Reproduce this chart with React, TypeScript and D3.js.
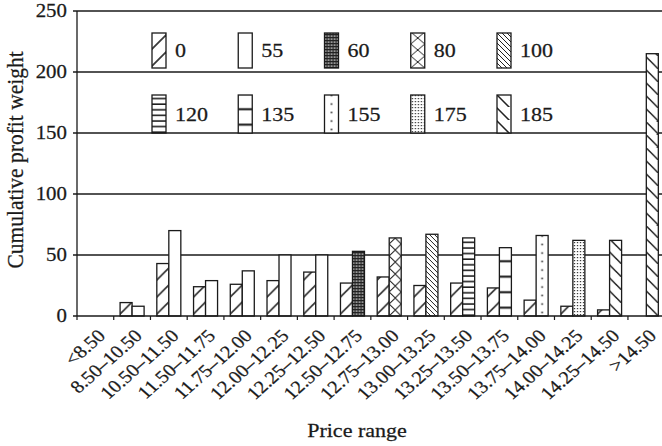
import React from "react";
import * as d3 from "d3";

const categories = ["<8.50", "8.50–10.50", "10.50–11.50", "11.50–11.75", "11.75–12.00", "12.00–12.25", "12.25–12.50", "12.50–12.75", "12.75–13.00", "13.00–13.25", "13.25–13.50", "13.50–13.75", "13.75–14.00", "14.00–14.25", "14.25–14.50", ">14.50"];
const baseSeriesValues: (number | null)[] = [null, 11, 43, 24, 26, 29, 36, 27, 32, 25, 27, 23, 13, 8, 5, null];
const pairedSeriesKeys: (string | null)[] = [null, "55", "55", "55", "55", "55", "55", "60", "80", "100", "120", "135", "155", "175", "185", "185"];
const pairedSeriesValues: (number | null)[] = [null, 8, 70, 29, 37, 50, 50, 53, 64, 67, 64, 56, 66, 62, 62, 215];
const legendKeys = ["0", "55", "60", "80", "100", "120", "135", "155", "175", "185"];
const yTicks = [0, 50, 100, 150, 200, 250];

const FONT = "'Liberation Serif', 'Times New Roman', serif";
const INK = "#1a1a1a";
const SX = 1.13;
const TS = 0.25;

function Pat({ id, k, x, y, w }: { id: string; k: string; x: number; y: number; w: number }) {
  const common: any = { id, patternUnits: "userSpaceOnUse", x, y };
  if (k === "0") {
    const h = 17;
    return (
      <pattern {...common} width={w} height={h}>
        <rect width={w} height={h} fill="#fff" />
        <path d={`M-1,${h - 1} L${w + 1},${h - 3 - w}`} stroke="#3a3a3a" strokeWidth={1.7} />
      </pattern>
    );
  }
  if (k === "55") {
    return (
      <pattern {...common} width={w} height={10}>
        <rect width={w} height={10} fill="#fff" />
      </pattern>
    );
  }
  if (k === "60") {
    return (
      <pattern {...common} width={3} height={3}>
        <rect width={3} height={3} fill="#222" />
        <rect x={0.4} y={0.4} width={1.4} height={1.4} fill="#f0f0f0" />
      </pattern>
    );
  }
  if (k === "80") {
    const h = 12;
    return (
      <pattern {...common} width={w} height={h}>
        <rect width={w} height={h} fill="#fff" />
        <path d={`M0,0 L${w},${h} M${w},0 L0,${h}`} stroke="#222" strokeWidth={1} />
      </pattern>
    );
  }
  if (k === "100") {
    const s = 5;
    return (
      <pattern {...common} width={s} height={s}>
        <rect width={s} height={s} fill="#fff" />
        <path d={`M-1,${s - 1} l2,2 M0,0 l${s},${s} M${s - 1},-1 l2,2`} stroke="#222" strokeWidth={1} />
      </pattern>
    );
  }
  if (k === "120") {
    const h = 5.6;
    return (
      <pattern {...common} width={w} height={h}>
        <rect width={w} height={h} fill="#fff" />
        <line x1={0} x2={w} y1={h - 0.8} y2={h - 0.8} stroke="#111" strokeWidth={1.5} />
      </pattern>
    );
  }
  if (k === "135") {
    const h = 15.5;
    return (
      <pattern {...common} width={w} height={h}>
        <rect width={w} height={h} fill="#fff" />
        <line x1={0} x2={w} y1={h - 8.3} y2={h - 8.3} stroke="#111" strokeWidth={2} />
      </pattern>
    );
  }
  if (k === "155") {
    const h = 8.5;
    return (
      <pattern {...common} width={w} height={h}>
        <rect width={w} height={h} fill="#fff" />
        <rect x={w / 2 - 0.8} y={h / 2} width={1.6} height={1.6} fill="#222" />
      </pattern>
    );
  }
  if (k === "175") {
    return (
      <pattern {...common} width={3} height={3}>
        <rect width={3} height={3} fill="#fff" />
        <rect x={1} y={1} width={1.2} height={1.2} fill="#222" />
      </pattern>
    );
  }
  // 185
  const h = 13;
  return (
    <pattern {...common} width={w} height={h}>
      <rect width={w} height={h} fill="#fff" />
      <path d={`M-1,0 L${w + 1},${w + 2}`} stroke="#222" strokeWidth={1.5} />
    </pattern>
  );
}

export default function App() {
  const W = 662;
  const H = 446;
  const x0 = 77;
  const step = 36.73;
  const x = d3.scaleBand<string>().domain(categories).range([x0, x0 + step * categories.length]).paddingInner(0).paddingOuter(0);
  const y = d3.scaleLinear().domain([0, 250]).range([316, 11]);
  const sub = d3.scaleBand<string>().domain(["base", "paired"]).range([0, x.bandwidth()]).paddingInner(0).paddingOuter(0.53);
  const bw = sub.bandwidth();

  type Bar = { key: string; x: number; v: number; id: string };
  const bars: Bar[] = [];
  categories.forEach((c, i) => {
    const b = baseSeriesValues[i];
    if (b != null) bars.push({ key: "0", x: (x(c) as number) + (sub("base") as number), v: b, id: `pb${i}` });
    const p = pairedSeriesValues[i];
    const pk = pairedSeriesKeys[i];
    if (p != null && pk != null) bars.push({ key: pk, x: (x(c) as number) + (sub("paired") as number), v: p, id: `pp${i}` });
  });

  const legendCol = d3.scaleLinear().domain([0, 4]).range([152, 497]);
  const legendRowTop = [33, 95];
  const legendRowH = [35, 38];
  const swW = 14;
  const legendItems = legendKeys.map((k, i) => {
    const row = Math.floor(i / 5);
    const col = i % 5;
    return { k, sx: legendCol(col), sy: legendRowTop[row], sh: legendRowH[row], id: `lg${i}` };
  });

  const boundaries = d3.range(categories.length + 1).map((i) => x0 + i * step);
  const textProps = { fill: INK, stroke: INK, strokeWidth: TS };

  return (
    <svg width={W} height={H} style={{ position: "absolute", left: 0, top: 0, background: "#fff" }} fontFamily={FONT}>
      <defs>
        {bars.map((b) => (
          <Pat key={b.id} id={b.id} k={b.key} x={b.x} y={316} w={bw} />
        ))}
        {legendItems.map((l) => (
          <Pat key={l.id} id={l.id} k={l.k} x={l.sx} y={l.sy + l.sh} w={swW} />
        ))}
      </defs>
      <rect width={W} height={H} fill="#fff" />
      {yTicks.filter((t) => t > 0).map((t) => (
        <line key={t} x1={73} x2={W + 10} y1={y(t)} y2={y(t)} stroke={INK} strokeWidth={1.3} />
      ))}
      {bars.map((b) => (
        <rect key={b.id} x={b.x} y={y(b.v)} width={bw} height={316 - y(b.v)} fill={`url(#${b.id})`} stroke={INK} strokeWidth={1.3} />
      ))}
      <line x1={x0} x2={x0} y1={y(250)} y2={316} stroke={INK} strokeWidth={1.3} />
      <line x1={73} x2={W + 10} y1={316} y2={316} stroke={INK} strokeWidth={1.3} />
      {boundaries.map((bx, i) => (
        <line key={i} x1={bx} x2={bx} y1={316} y2={320} stroke={INK} strokeWidth={1.2} />
      ))}
      {yTicks.map((t) => (
        <text key={t} transform={`translate(67,${y(t)}) scale(${SX},1)`} dy="0.35em" textAnchor="end" fontSize={18.5} {...textProps}>
          {t}
        </text>
      ))}
      {categories.map((c) => (
        <text key={c} transform={`translate(${(x(c) as number) + x.bandwidth() / 2 + 11},337) scale(${SX},1) rotate(-45)`} textAnchor="end" fontSize={18} {...textProps}>
          {c}
        </text>
      ))}
      <text transform="translate(23,160) scale(1.05,1) rotate(-90)" textAnchor="middle" fontSize={21.5} {...textProps}>
        Cumulative profit weight
      </text>
      <text transform={`translate(357,437) scale(${SX},1)`} textAnchor="middle" fontSize={19.5} {...textProps}>
        Price range
      </text>
      {legendItems.map((l) => (
        <g key={l.id}>
          <rect x={l.sx} y={l.sy} width={swW} height={l.sh} fill={`url(#${l.id})`} stroke={INK} strokeWidth={1.3} />
          <text transform={`translate(${l.sx + swW + 9},${l.sy + l.sh / 2}) scale(${SX},1)`} dy="0.35em" fontSize={19.5} {...textProps}>
            {l.k}
          </text>
        </g>
      ))}
    </svg>
  );
}
